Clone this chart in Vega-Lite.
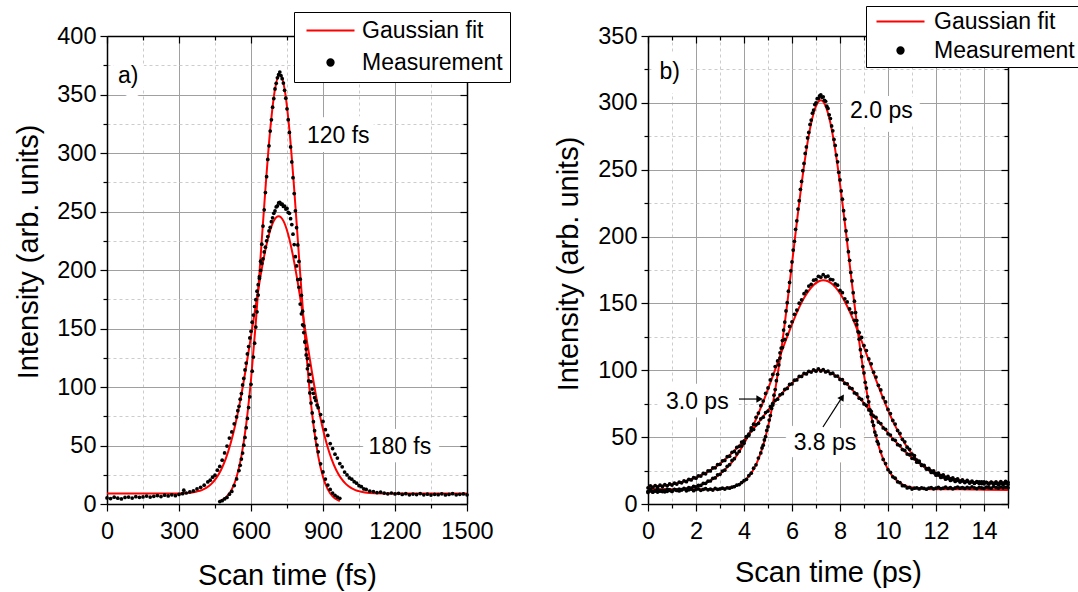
{
"$schema":"https://vega.github.io/schema/vega-lite/v6.json",
"background":"white",
"padding":{"left":14,"top":5,"right":2,"bottom":2},
"config":{
 "font":"Liberation Sans",
 "view":{"stroke":null},
 "axis":{"labelFont":"Liberation Sans","labelFontSize":23.5,"labelColor":"black","titleFont":"Liberation Sans","titleFontSize":29,"titleFontWeight":"normal","titleColor":"black","domainColor":"black","domainWidth":1.5,"tickColor":"black","tickWidth":1.2,"gridWidth":1}
},
"datasets":{
"fitL":[
{"c":"A","x":470,"y":2.6},{"c":"A","x":480,"y":3.5},{"c":"A","x":500,"y":6.5},{"c":"A","x":520,"y":12.5},{"c":"A","x":540,"y":23.1},{"c":"A","x":560,"y":40.9},{"c":"A","x":580,"y":68.1},{"c":"A","x":600,"y":106.2},{"c":"A","x":620,"y":155},{"c":"A","x":640,"y":211.3},{"c":"A","x":660,"y":269},{"c":"A","x":680,"y":319.7},{"c":"A","x":700,"y":354.6},{"c":"A","x":720,"y":367},{"c":"A","x":740,"y":354.6},{"c":"A","x":760,"y":319.7},{"c":"A","x":780,"y":269},{"c":"A","x":800,"y":211.3},{"c":"A","x":820,"y":155},{"c":"A","x":840,"y":106.2},{"c":"A","x":860,"y":68.1},{"c":"A","x":880,"y":40.9},{"c":"A","x":900,"y":23.1},{"c":"A","x":920,"y":12.5},{"c":"A","x":940,"y":6.5},{"c":"A","x":960,"y":3.5},{"c":"A","x":970,"y":2.6},
{"c":"B","x":0,"y":9},{"c":"B","x":100,"y":9},{"c":"B","x":200,"y":9},{"c":"B","x":300,"y":9.05},{"c":"B","x":315,"y":9.25},{"c":"B","x":355,"y":9.9},{"c":"B","x":375,"y":10.7},{"c":"B","x":395,"y":11.9},{"c":"B","x":415,"y":14},{"c":"B","x":435,"y":17.2},{"c":"B","x":455,"y":22.1},{"c":"B","x":475,"y":29.1},{"c":"B","x":495,"y":38.8},{"c":"B","x":515,"y":51.7},{"c":"B","x":535,"y":68.1},{"c":"B","x":555,"y":88.1},{"c":"B","x":575,"y":111.3},{"c":"B","x":595,"y":136.8},{"c":"B","x":615,"y":163.4},{"c":"B","x":635,"y":189.1},{"c":"B","x":655,"y":212.1},{"c":"B","x":675,"y":230.3},{"c":"B","x":695,"y":242},{"c":"B","x":715,"y":246},{"c":"B","x":735,"y":242},{"c":"B","x":755,"y":230.3},{"c":"B","x":775,"y":212.1},{"c":"B","x":795,"y":189.1},{"c":"B","x":815,"y":163.4},{"c":"B","x":835,"y":136.8},{"c":"B","x":855,"y":111.3},{"c":"B","x":875,"y":88.1},{"c":"B","x":895,"y":68.1},{"c":"B","x":915,"y":51.7},{"c":"B","x":935,"y":38.8},{"c":"B","x":955,"y":29.1},{"c":"B","x":975,"y":22.1},{"c":"B","x":995,"y":17.2},{"c":"B","x":1015,"y":14},{"c":"B","x":1035,"y":11.9},{"c":"B","x":1055,"y":10.7},{"c":"B","x":1075,"y":9.9},{"c":"B","x":1115,"y":9.25},{"c":"B","x":1200,"y":9},{"c":"B","x":1300,"y":9},{"c":"B","x":1400,"y":9},{"c":"B","x":1500,"y":9}
],
"measL":[
{"x":470,"y":2.1},{"x":480,"y":2.8},{"x":490,"y":4.3},{"x":500,"y":5.6},{"x":510,"y":8.4},{"x":520,"y":10.7},{"x":530,"y":15.8},{"x":540,"y":21.4},{"x":550,"y":28.6},{"x":555,"y":33.1},{"x":560,"y":38.4},{"x":565,"y":43.5},{"x":570,"y":50.3},{"x":575,"y":56.9},{"x":580,"y":65.2},{"x":585,"y":73.1},{"x":590,"y":82.4},{"x":595,"y":91.6},{"x":600,"y":102.3},{"x":605,"y":113.5},{"x":610,"y":125.6},{"x":615,"y":137.4},{"x":620,"y":151.2},{"x":625,"y":164.3},{"x":630,"y":178.6},{"x":635,"y":192.8},{"x":640,"y":207.5},{"x":645,"y":222.1},{"x":650,"y":237.6},{"x":655,"y":251.4},{"x":660,"y":266.2},{"x":665,"y":279.8},{"x":670,"y":294.5},{"x":675,"y":306.1},{"x":680,"y":318.7},{"x":685,"y":328.4},{"x":690,"y":339.2},{"x":695,"y":346.5},{"x":700,"y":354.8},{"x":705,"y":359.6},{"x":710,"y":364.3},{"x":715,"y":366.9},{"x":720,"y":369.2},{"x":725,"y":366.1},{"x":730,"y":363.5},{"x":735,"y":359.8},{"x":740,"y":353.6},{"x":745,"y":346.9},{"x":750,"y":337.8},{"x":755,"y":328.5},{"x":760,"y":317.6},{"x":765,"y":305.2},{"x":770,"y":292.4},{"x":775,"y":278.9},{"x":780,"y":265.3},{"x":785,"y":250.6},{"x":790,"y":236.2},{"x":795,"y":221.4},{"x":800,"y":207.3},{"x":805,"y":192.2},{"x":810,"y":178.4},{"x":815,"y":164.8},{"x":820,"y":152.3},{"x":825,"y":139.1},{"x":830,"y":127.4},{"x":835,"y":115.6},{"x":840,"y":105.2},{"x":845,"y":94.9},{"x":850,"y":86.3},{"x":855,"y":77.8},{"x":860,"y":70.4},{"x":865,"y":62.7},{"x":870,"y":56.3},{"x":875,"y":50.4},{"x":880,"y":44.6},{"x":890,"y":34.3},{"x":900,"y":27.4},{"x":910,"y":21.3},{"x":920,"y":16.2},{"x":930,"y":12.4},{"x":940,"y":9.3},{"x":950,"y":7.4},{"x":960,"y":5.8},{"x":970,"y":4.9},
{"x":0,"y":5.2},{"x":15,"y":4.6},{"x":30,"y":5.8},{"x":45,"y":5},{"x":60,"y":4.3},{"x":75,"y":5.6},{"x":90,"y":5.9},{"x":105,"y":5.1},{"x":120,"y":6.3},{"x":135,"y":5.7},{"x":150,"y":6},{"x":165,"y":6.8},{"x":180,"y":5.9},{"x":195,"y":6.6},{"x":210,"y":7.2},{"x":225,"y":6.4},{"x":240,"y":7.5},{"x":255,"y":6.9},{"x":270,"y":7.8},{"x":285,"y":7.1},{"x":300,"y":8.2},{"x":315,"y":8.8},{"x":320,"y":11.8},{"x":330,"y":9.4},{"x":345,"y":10.3},{"x":360,"y":11.2},{"x":375,"y":12.9},{"x":390,"y":14.3},{"x":405,"y":16.1},{"x":420,"y":18.9},{"x":430,"y":20.4},{"x":440,"y":22.9},{"x":450,"y":24.6},{"x":460,"y":28.9},{"x":470,"y":32.1},{"x":480,"y":37.4},{"x":490,"y":43.6},{"x":500,"y":49.5},{"x":510,"y":56.4},{"x":520,"y":61.6},{"x":530,"y":68.5},{"x":540,"y":74.4},{"x":545,"y":79.8},{"x":550,"y":83.5},{"x":555,"y":89.6},{"x":560,"y":94.4},{"x":565,"y":101.8},{"x":570,"y":107.3},{"x":575,"y":114.6},{"x":580,"y":120.5},{"x":585,"y":128.3},{"x":590,"y":134.6},{"x":595,"y":141.9},{"x":600,"y":147.6},{"x":605,"y":155.4},{"x":610,"y":161.5},{"x":615,"y":168.8},{"x":620,"y":174.6},{"x":625,"y":181.9},{"x":630,"y":187.5},{"x":635,"y":194.3},{"x":640,"y":199.6},{"x":645,"y":205.5},{"x":650,"y":209.6},{"x":655,"y":215.4},{"x":660,"y":219.5},{"x":665,"y":224.9},{"x":670,"y":228.6},{"x":675,"y":233.4},{"x":680,"y":236.5},{"x":685,"y":241.3},{"x":690,"y":244.6},{"x":695,"y":248.4},{"x":700,"y":250.6},{"x":705,"y":253.9},{"x":710,"y":254.8},{"x":715,"y":257.3},{"x":720,"y":257.9},{"x":725,"y":256.2},{"x":730,"y":256.4},{"x":735,"y":254.3},{"x":740,"y":254.6},{"x":745,"y":252.1},{"x":750,"y":252.6},{"x":755,"y":249.2},{"x":760,"y":248.4},{"x":765,"y":243.9},{"x":770,"y":238.8},{"x":775,"y":230.6},{"x":780,"y":221.7},{"x":785,"y":211.4},{"x":790,"y":203.5},{"x":795,"y":191.8},{"x":800,"y":185.2},{"x":805,"y":170.9},{"x":810,"y":162.6},{"x":815,"y":153.1},{"x":820,"y":146.5},{"x":825,"y":138.2},{"x":830,"y":132.4},{"x":835,"y":124.3},{"x":840,"y":118.6},{"x":845,"y":110.9},{"x":850,"y":104.5},{"x":855,"y":98.2},{"x":860,"y":94.6},{"x":865,"y":90.9},{"x":870,"y":88.4},{"x":875,"y":84.6},{"x":880,"y":82.3},{"x":890,"y":76.4},{"x":900,"y":70.6},{"x":910,"y":63.5},{"x":920,"y":58.6},{"x":930,"y":51.7},{"x":940,"y":47.4},{"x":950,"y":42.6},{"x":960,"y":39.3},{"x":970,"y":34.6},{"x":980,"y":31.8},{"x":990,"y":27.3},{"x":1000,"y":24.8},{"x":1010,"y":22.3},{"x":1020,"y":21.2},{"x":1030,"y":19.1},{"x":1040,"y":17.8},{"x":1050,"y":15.7},{"x":1060,"y":14.8},{"x":1070,"y":12.9},{"x":1080,"y":12.4},{"x":1095,"y":11},{"x":1110,"y":10.6},{"x":1125,"y":9.8},{"x":1140,"y":10.2},{"x":1155,"y":9.3},{"x":1170,"y":8.7},{"x":1185,"y":9.4},{"x":1200,"y":8.6},{"x":1215,"y":9.1},{"x":1230,"y":8.2},{"x":1245,"y":8.8},{"x":1260,"y":7.9},{"x":1275,"y":8.5},{"x":1290,"y":8.1},{"x":1305,"y":8.9},{"x":1320,"y":7.8},{"x":1335,"y":8.4},{"x":1350,"y":7.6},{"x":1365,"y":8.3},{"x":1380,"y":8},{"x":1395,"y":8.7},{"x":1410,"y":7.7},{"x":1425,"y":8.2},{"x":1440,"y":8.8},{"x":1455,"y":7.9},{"x":1470,"y":8.3},{"x":1485,"y":8.6},{"x":1500,"y":7.9}
],
"fitR":[
{"c":"N","x":0,"y":11},{"c":"N","x":1,"y":11},{"c":"N","x":2,"y":11},{"c":"N","x":3,"y":11.1},{"c":"N","x":3.2,"y":11.7},{"c":"N","x":3.4,"y":12.3},{"c":"N","x":3.6,"y":13.2},{"c":"N","x":3.8,"y":14.7},{"c":"N","x":4,"y":17.1},{"c":"N","x":4.2,"y":20.7},{"c":"N","x":4.3,"y":23.1},{"c":"N","x":4.4,"y":26},{"c":"N","x":4.5,"y":29.5},{"c":"N","x":4.6,"y":33.6},{"c":"N","x":4.7,"y":38.4},{"c":"N","x":4.8,"y":44},{"c":"N","x":4.9,"y":50.4},{"c":"N","x":5,"y":57.7},{"c":"N","x":5.1,"y":65.9},{"c":"N","x":5.2,"y":75.1},{"c":"N","x":5.3,"y":85.3},{"c":"N","x":5.4,"y":96.5},{"c":"N","x":5.5,"y":108.6},{"c":"N","x":5.6,"y":121.5},{"c":"N","x":5.7,"y":135.3},{"c":"N","x":5.8,"y":149.7},{"c":"N","x":5.9,"y":164.6},{"c":"N","x":6,"y":179.8},{"c":"N","x":6.1,"y":195.2},{"c":"N","x":6.2,"y":210.4},{"c":"N","x":6.3,"y":225.2},{"c":"N","x":6.4,"y":239.4},{"c":"N","x":6.5,"y":252.8},{"c":"N","x":6.6,"y":265},{"c":"N","x":6.7,"y":275.7},{"c":"N","x":6.8,"y":284.9},{"c":"N","x":6.9,"y":292.3},{"c":"N","x":7,"y":297.6},{"c":"N","x":7.1,"y":300.9},{"c":"N","x":7.2,"y":302},{"c":"N","x":7.3,"y":300.9},{"c":"N","x":7.4,"y":297.6},{"c":"N","x":7.5,"y":292.3},{"c":"N","x":7.6,"y":284.9},{"c":"N","x":7.7,"y":275.7},{"c":"N","x":7.8,"y":265},{"c":"N","x":7.9,"y":252.8},{"c":"N","x":8,"y":239.4},{"c":"N","x":8.1,"y":225.2},{"c":"N","x":8.2,"y":210.4},{"c":"N","x":8.3,"y":195.2},{"c":"N","x":8.4,"y":179.8},{"c":"N","x":8.5,"y":164.6},{"c":"N","x":8.6,"y":149.7},{"c":"N","x":8.7,"y":135.3},{"c":"N","x":8.8,"y":121.5},{"c":"N","x":8.9,"y":108.6},{"c":"N","x":9,"y":96.5},{"c":"N","x":9.1,"y":85.3},{"c":"N","x":9.2,"y":75.1},{"c":"N","x":9.3,"y":65.9},{"c":"N","x":9.4,"y":57.7},{"c":"N","x":9.5,"y":50.4},{"c":"N","x":9.6,"y":44},{"c":"N","x":9.7,"y":38.4},{"c":"N","x":9.8,"y":33.6},{"c":"N","x":9.9,"y":29.5},{"c":"N","x":10,"y":26},{"c":"N","x":10.1,"y":23.1},{"c":"N","x":10.2,"y":20.7},{"c":"N","x":10.4,"y":17.1},{"c":"N","x":10.6,"y":14.7},{"c":"N","x":10.8,"y":13.2},{"c":"N","x":11,"y":12.3},{"c":"N","x":11.2,"y":11.7},{"c":"N","x":11.6,"y":11.2},{"c":"N","x":12,"y":11},{"c":"N","x":13,"y":11},{"c":"N","x":14,"y":10.7},{"c":"N","x":15,"y":10.4},
{"c":"M","x":0,"y":9.1},{"c":"M","x":0.8,"y":10.2},{"c":"M","x":1.3,"y":10.7},{"c":"M","x":1.7,"y":11.8},{"c":"M","x":2.1,"y":13.7},{"c":"M","x":2.5,"y":16.6},{"c":"M","x":2.9,"y":21},{"c":"M","x":3.3,"y":27.4},{"c":"M","x":3.5,"y":31.4},{"c":"M","x":3.7,"y":36.4},{"c":"M","x":3.9,"y":42.1},{"c":"M","x":4.1,"y":48.4},{"c":"M","x":4.3,"y":55.6},{"c":"M","x":4.5,"y":63.4},{"c":"M","x":4.7,"y":72},{"c":"M","x":4.9,"y":81.1},{"c":"M","x":5.1,"y":90.7},{"c":"M","x":5.3,"y":100.6},{"c":"M","x":5.5,"y":110.6},{"c":"M","x":5.7,"y":120.4},{"c":"M","x":5.9,"y":129.9},{"c":"M","x":6.1,"y":138.9},{"c":"M","x":6.3,"y":147},{"c":"M","x":6.5,"y":154},{"c":"M","x":6.7,"y":159.6},{"c":"M","x":6.9,"y":163.8},{"c":"M","x":7.1,"y":166.4},{"c":"M","x":7.3,"y":167.4},{"c":"M","x":7.5,"y":166.6},{"c":"M","x":7.7,"y":164.2},{"c":"M","x":7.9,"y":160.2},{"c":"M","x":8.1,"y":154.7},{"c":"M","x":8.3,"y":147.9},{"c":"M","x":8.5,"y":140},{"c":"M","x":8.7,"y":131.2},{"c":"M","x":8.9,"y":121.9},{"c":"M","x":9.1,"y":112.3},{"c":"M","x":9.3,"y":102.5},{"c":"M","x":9.5,"y":92.8},{"c":"M","x":9.7,"y":83.4},{"c":"M","x":9.9,"y":74.5},{"c":"M","x":10.1,"y":66},{"c":"M","x":10.3,"y":58.4},{"c":"M","x":10.5,"y":51.4},{"c":"M","x":10.7,"y":45.3},{"c":"M","x":10.9,"y":39.8},{"c":"M","x":11.1,"y":35.2},{"c":"M","x":11.3,"y":31.2},{"c":"M","x":11.7,"y":25.1},{"c":"M","x":12.1,"y":21.1},{"c":"M","x":12.5,"y":18.6},{"c":"M","x":12.9,"y":17.1},{"c":"M","x":13.3,"y":16.4},{"c":"M","x":13.8,"y":16},{"c":"M","x":15,"y":16.1},
{"c":"W","x":0,"y":12.7},{"c":"W","x":0.3,"y":13.2},{"c":"W","x":0.7,"y":13.9},{"c":"W","x":1.1,"y":15.1},{"c":"W","x":1.5,"y":16.8},{"c":"W","x":1.9,"y":19.1},{"c":"W","x":2.1,"y":20.5},{"c":"W","x":2.3,"y":22.3},{"c":"W","x":2.5,"y":24.2},{"c":"W","x":2.7,"y":26.4},{"c":"W","x":2.9,"y":28.9},{"c":"W","x":3.1,"y":31.7},{"c":"W","x":3.3,"y":34.8},{"c":"W","x":3.5,"y":38.1},{"c":"W","x":3.7,"y":41.7},{"c":"W","x":3.9,"y":45.7},{"c":"W","x":4.1,"y":49.8},{"c":"W","x":4.3,"y":54.2},{"c":"W","x":4.5,"y":58.6},{"c":"W","x":4.7,"y":63.1},{"c":"W","x":4.9,"y":67.8},{"c":"W","x":5.1,"y":72.3},{"c":"W","x":5.3,"y":76.9},{"c":"W","x":5.5,"y":81.1},{"c":"W","x":5.7,"y":85.1},{"c":"W","x":5.9,"y":88.8},{"c":"W","x":6.1,"y":92},{"c":"W","x":6.3,"y":94.8},{"c":"W","x":6.5,"y":97},{"c":"W","x":6.7,"y":98.6},{"c":"W","x":6.9,"y":99.7},{"c":"W","x":7.1,"y":100},{"c":"W","x":7.3,"y":99.8},{"c":"W","x":7.5,"y":98.8},{"c":"W","x":7.7,"y":97.2},{"c":"W","x":7.9,"y":95.1},{"c":"W","x":8.1,"y":92.4},{"c":"W","x":8.3,"y":89.3},{"c":"W","x":8.5,"y":85.7},{"c":"W","x":8.7,"y":81.7},{"c":"W","x":8.9,"y":77.6},{"c":"W","x":9.1,"y":73.1},{"c":"W","x":9.3,"y":68.7},{"c":"W","x":9.5,"y":64.1},{"c":"W","x":9.7,"y":59.6},{"c":"W","x":9.9,"y":55.3},{"c":"W","x":10.1,"y":51},{"c":"W","x":10.3,"y":47},{"c":"W","x":10.5,"y":43.1},{"c":"W","x":10.7,"y":39.5},{"c":"W","x":10.9,"y":36.3},{"c":"W","x":11.1,"y":33.3},{"c":"W","x":11.3,"y":30.6},{"c":"W","x":11.5,"y":28.2},{"c":"W","x":11.7,"y":26},{"c":"W","x":11.9,"y":24.2},{"c":"W","x":12.1,"y":22.5},{"c":"W","x":12.3,"y":21.2},{"c":"W","x":12.5,"y":20},{"c":"W","x":12.9,"y":18.2},{"c":"W","x":13.3,"y":17},{"c":"W","x":13.7,"y":16.1},{"c":"W","x":14.1,"y":15.6},{"c":"W","x":14.5,"y":15.4},{"c":"W","x":15,"y":15.3}
],
"measR":[
{"x":0,"y":9.5},{"x":0.1,"y":10.8},{"x":0.2,"y":9.2},{"x":0.3,"y":10.1},{"x":0.4,"y":11.2},{"x":0.5,"y":9.6},{"x":0.6,"y":10.4},{"x":0.7,"y":9.1},{"x":0.8,"y":10.9},{"x":0.9,"y":10.2},{"x":1,"y":9.4},{"x":1.1,"y":11},{"x":1.2,"y":10.3},{"x":1.3,"y":9.8},{"x":1.4,"y":10.7},{"x":1.5,"y":11.3},{"x":1.6,"y":9.9},{"x":1.7,"y":10.6},{"x":1.8,"y":11.1},{"x":1.9,"y":10},{"x":2,"y":10.8},{"x":2.1,"y":11.4},{"x":2.2,"y":10.2},{"x":2.3,"y":10.9},{"x":2.4,"y":11.5},{"x":2.5,"y":10.6},{"x":2.6,"y":11.2},{"x":2.7,"y":10.4},{"x":2.8,"y":11.6},{"x":2.9,"y":11},{"x":3,"y":11.3},{"x":3.1,"y":11.9},{"x":3.2,"y":11.2},{"x":3.3,"y":12.1},{"x":3.4,"y":11.8},{"x":3.5,"y":12.6},{"x":3.6,"y":13},{"x":3.7,"y":14.1},{"x":3.8,"y":14.5},{"x":3.9,"y":16},{"x":4,"y":17.4},{"x":4.1,"y":18.5},{"x":4.2,"y":21.2},{"x":4.3,"y":23},{"x":4.4,"y":26.8},{"x":4.5,"y":29.3},{"x":4.6,"y":34.4},{"x":4.7,"y":38.2},{"x":4.75,"y":41.9},{"x":4.8,"y":44},{"x":4.85,"y":47.9},{"x":4.9,"y":50.4},{"x":4.95,"y":55},{"x":5,"y":57.8},{"x":5.05,"y":62.8},{"x":5.1,"y":66.1},{"x":5.15,"y":71.5},{"x":5.2,"y":75.3},{"x":5.25,"y":81.4},{"x":5.3,"y":85.6},{"x":5.35,"y":92.2},{"x":5.4,"y":97},{"x":5.45,"y":104},{"x":5.5,"y":109.1},{"x":5.55,"y":116.6},{"x":5.6,"y":122.2},{"x":5.65,"y":130.1},{"x":5.7,"y":136.1},{"x":5.75,"y":144.4},{"x":5.8,"y":150.6},{"x":5.85,"y":159.2},{"x":5.9,"y":165.7},{"x":5.95,"y":174.4},{"x":6,"y":181},{"x":6.05,"y":189.9},{"x":6.1,"y":196.5},{"x":6.15,"y":205.4},{"x":6.2,"y":211.8},{"x":6.25,"y":220.6},{"x":6.3,"y":226.8},{"x":6.35,"y":235.3},{"x":6.4,"y":241.2},{"x":6.45,"y":249.3},{"x":6.5,"y":254.7},{"x":6.55,"y":262.2},{"x":6.6,"y":267},{"x":6.65,"y":273.8},{"x":6.7,"y":277.9},{"x":6.75,"y":283.9},{"x":6.8,"y":287.1},{"x":6.85,"y":292.3},{"x":6.9,"y":294.6},{"x":6.95,"y":298.7},{"x":7,"y":300},{"x":7.05,"y":303.1},{"x":7.1,"y":303.3},{"x":7.15,"y":305.3},{"x":7.2,"y":306},{"x":7.25,"y":304.1},{"x":7.3,"y":304.5},{"x":7.35,"y":301.9},{"x":7.4,"y":301.2},{"x":7.45,"y":297.5},{"x":7.5,"y":295.8},{"x":7.55,"y":291.1},{"x":7.6,"y":288.3},{"x":7.65,"y":282.7},{"x":7.7,"y":279.1},{"x":7.75,"y":272.6},{"x":7.8,"y":268.2},{"x":7.85,"y":261},{"x":7.9,"y":255.9},{"x":7.95,"y":248.1},{"x":8,"y":242.4},{"x":8.05,"y":234.1},{"x":8.1,"y":228},{"x":8.15,"y":219.4},{"x":8.2,"y":213},{"x":8.25,"y":204.2},{"x":8.3,"y":197.7},{"x":8.35,"y":188.7},{"x":8.4,"y":182.2},{"x":8.45,"y":173.2},{"x":8.5,"y":166.8},{"x":8.55,"y":158},{"x":8.6,"y":151.7},{"x":8.65,"y":143.2},{"x":8.7,"y":137.2},{"x":8.75,"y":128.9},{"x":8.8,"y":123.3},{"x":8.85,"y":115.4},{"x":8.9,"y":110.2},{"x":8.95,"y":102.8},{"x":9,"y":98},{"x":9.05,"y":91},{"x":9.1,"y":86.7},{"x":9.15,"y":80.2},{"x":9.2,"y":76.4},{"x":9.25,"y":70.4},{"x":9.3,"y":67.1},{"x":9.35,"y":61.6},{"x":9.4,"y":58.8},{"x":9.45,"y":53.8},{"x":9.5,"y":51.4},{"x":9.55,"y":46.9},{"x":9.6,"y":44.9},{"x":9.7,"y":39.2},{"x":9.8,"y":33.3},{"x":9.9,"y":30.2},{"x":10,"y":25.7},{"x":10.1,"y":23.7},{"x":10.2,"y":20.3},{"x":10.3,"y":19.3},{"x":10.4,"y":16.6},{"x":10.5,"y":15.9},{"x":10.6,"y":13.7},{"x":10.7,"y":13.6},{"x":10.8,"y":12},{"x":10.9,"y":12.4},{"x":11,"y":11.2},{"x":11.1,"y":11.8},{"x":11.2,"y":12},{"x":11.3,"y":11.3},{"x":11.4,"y":12.1},{"x":11.5,"y":11.6},{"x":11.6,"y":11.1},{"x":11.7,"y":11.9},{"x":11.8,"y":12.3},{"x":11.9,"y":11.4},{"x":12,"y":11.8},{"x":12.1,"y":12.4},{"x":12.2,"y":11.5},{"x":12.3,"y":11.9},{"x":12.4,"y":12.6},{"x":12.5,"y":11.7},{"x":12.6,"y":12.2},{"x":12.7,"y":11.4},{"x":12.8,"y":12},{"x":12.9,"y":12.7},{"x":13,"y":11.8},{"x":13.1,"y":12.3},{"x":13.2,"y":11.6},{"x":13.3,"y":12.4},{"x":13.4,"y":11.9},{"x":13.5,"y":12.8},{"x":13.6,"y":12.1},{"x":13.7,"y":11.5},{"x":13.8,"y":12.5},{"x":13.9,"y":12},{"x":14,"y":11.7},{"x":14.1,"y":12.6},{"x":14.2,"y":12.2},{"x":14.3,"y":11.8},{"x":14.4,"y":12.9},{"x":14.5,"y":12.3},{"x":14.6,"y":11.9},{"x":14.7,"y":12.7},{"x":14.8,"y":12.1},{"x":14.9,"y":12.5},{"x":15,"y":12.2},
{"x":0,"y":8.6},{"x":0.1,"y":9.9},{"x":0.2,"y":8.8},{"x":0.3,"y":9.7},{"x":0.4,"y":8.9},{"x":0.5,"y":10.2},{"x":0.6,"y":9.3},{"x":0.7,"y":10.1},{"x":0.8,"y":9.5},{"x":0.9,"y":10.6},{"x":1,"y":9.7},{"x":1.1,"y":10.8},{"x":1.2,"y":10.1},{"x":1.3,"y":11.2},{"x":1.4,"y":10.5},{"x":1.5,"y":11.6},{"x":1.6,"y":11.1},{"x":1.7,"y":12.3},{"x":1.8,"y":11.8},{"x":1.9,"y":13.1},{"x":2,"y":12.8},{"x":2.1,"y":14},{"x":2.2,"y":13.9},{"x":2.3,"y":15.4},{"x":2.4,"y":15.5},{"x":2.5,"y":17.1},{"x":2.6,"y":17.2},{"x":2.7,"y":19.2},{"x":2.8,"y":19.5},{"x":2.9,"y":21.8},{"x":3,"y":22.2},{"x":3.1,"y":24.6},{"x":3.2,"y":25.3},{"x":3.3,"y":28.2},{"x":3.4,"y":29.4},{"x":3.5,"y":32.6},{"x":3.6,"y":33.9},{"x":3.7,"y":37.5},{"x":3.8,"y":39.3},{"x":3.9,"y":43.4},{"x":4,"y":45.4},{"x":4.1,"y":49.8},{"x":4.2,"y":52.2},{"x":4.3,"y":56.9},{"x":4.4,"y":59.7},{"x":4.5,"y":64.8},{"x":4.6,"y":68},{"x":4.7,"y":73.5},{"x":4.8,"y":77},{"x":4.9,"y":82.7},{"x":5,"y":86.8},{"x":5.1,"y":92.8},{"x":5.2,"y":96.9},{"x":5.3,"y":102.8},{"x":5.4,"y":107},{"x":5.5,"y":113.1},{"x":5.6,"y":117},{"x":5.7,"y":123.1},{"x":5.8,"y":126.9},{"x":5.9,"y":132.8},{"x":6,"y":136.3},{"x":6.1,"y":141.9},{"x":6.2,"y":145},{"x":6.3,"y":150.2},{"x":6.4,"y":152.7},{"x":6.5,"y":157.3},{"x":6.6,"y":159.2},{"x":6.7,"y":163},{"x":6.8,"y":164.3},{"x":6.9,"y":167.4},{"x":7,"y":167.8},{"x":7.1,"y":170.3},{"x":7.2,"y":169.6},{"x":7.3,"y":171.5},{"x":7.4,"y":169.8},{"x":7.5,"y":170.4},{"x":7.6,"y":168},{"x":7.7,"y":167.7},{"x":7.8,"y":164.7},{"x":7.9,"y":163.6},{"x":8,"y":159.8},{"x":8.1,"y":158},{"x":8.2,"y":153.5},{"x":8.3,"y":151.1},{"x":8.4,"y":145.9},{"x":8.5,"y":143},{"x":8.6,"y":137.4},{"x":8.7,"y":134.1},{"x":8.8,"y":128.2},{"x":8.9,"y":124.6},{"x":9,"y":118.5},{"x":9.1,"y":114.8},{"x":9.2,"y":108.5},{"x":9.3,"y":104.8},{"x":9.4,"y":98.6},{"x":9.5,"y":94.9},{"x":9.6,"y":88.8},{"x":9.7,"y":85.3},{"x":9.8,"y":79.5},{"x":9.9,"y":76.3},{"x":10,"y":70.7},{"x":10.1,"y":67.6},{"x":10.2,"y":62.5},{"x":10.3,"y":59.8},{"x":10.4,"y":55},{"x":10.5,"y":52.8},{"x":10.6,"y":48.4},{"x":10.7,"y":46.5},{"x":10.8,"y":42.5},{"x":10.9,"y":40.9},{"x":11,"y":37.3},{"x":11.1,"y":36.2},{"x":11.2,"y":32.9},{"x":11.3,"y":32.1},{"x":11.4,"y":29.2},{"x":11.5,"y":28.7},{"x":11.6,"y":26.1},{"x":11.7,"y":25.9},{"x":11.8,"y":23.6},{"x":11.9,"y":23.5},{"x":12,"y":21.5},{"x":12.1,"y":21.7},{"x":12.2,"y":19.9},{"x":12.3,"y":20.2},{"x":12.4,"y":18.6},{"x":12.5,"y":19.1},{"x":12.6,"y":17.6},{"x":12.7,"y":18.3},{"x":12.8,"y":16.9},{"x":12.9,"y":17.7},{"x":13,"y":16.4},{"x":13.1,"y":17.2},{"x":13.2,"y":16},{"x":13.3,"y":16.9},{"x":13.4,"y":15.7},{"x":13.5,"y":16.6},{"x":13.6,"y":15.5},{"x":13.7,"y":16.4},{"x":13.8,"y":16.6},{"x":13.9,"y":15.3},{"x":14,"y":16.5},{"x":14.1,"y":16},{"x":14.2,"y":15.2},{"x":14.3,"y":16.3},{"x":14.4,"y":15.4},{"x":14.5,"y":16.6},{"x":14.6,"y":15.3},{"x":14.7,"y":16.8},{"x":14.8,"y":15.6},{"x":14.9,"y":16.9},{"x":15,"y":16.2},
{"x":0,"y":12.1},{"x":0.1,"y":13.5},{"x":0.2,"y":12.4},{"x":0.3,"y":13.8},{"x":0.4,"y":12.7},{"x":0.5,"y":14.1},{"x":0.6,"y":13.1},{"x":0.7,"y":14.4},{"x":0.8,"y":13.6},{"x":0.9,"y":15},{"x":1,"y":14.2},{"x":1.1,"y":15.6},{"x":1.2,"y":14.9},{"x":1.3,"y":16.4},{"x":1.4,"y":15.8},{"x":1.5,"y":17.3},{"x":1.6,"y":16.7},{"x":1.7,"y":18.4},{"x":1.8,"y":18},{"x":1.9,"y":19.7},{"x":2,"y":19.3},{"x":2.1,"y":21.1},{"x":2.2,"y":20.9},{"x":2.3,"y":22.9},{"x":2.4,"y":22.6},{"x":2.5,"y":24.8},{"x":2.6,"y":24.7},{"x":2.7,"y":27},{"x":2.8,"y":27.1},{"x":2.9,"y":29.5},{"x":3,"y":29.7},{"x":3.1,"y":32.3},{"x":3.2,"y":32.6},{"x":3.3,"y":35.4},{"x":3.4,"y":35.8},{"x":3.5,"y":38.7},{"x":3.6,"y":39.3},{"x":3.7,"y":42.3},{"x":3.8,"y":43.1},{"x":3.9,"y":46.3},{"x":4,"y":47.1},{"x":4.1,"y":50.4},{"x":4.2,"y":51.3},{"x":4.3,"y":54.8},{"x":4.4,"y":55.8},{"x":4.5,"y":59.2},{"x":4.6,"y":60.3},{"x":4.7,"y":63.7},{"x":4.8,"y":64.9},{"x":4.9,"y":68.4},{"x":5,"y":69.5},{"x":5.1,"y":72.9},{"x":5.2,"y":74},{"x":5.3,"y":77.5},{"x":5.4,"y":78.4},{"x":5.5,"y":81.7},{"x":5.6,"y":82.5},{"x":5.7,"y":85.7},{"x":5.8,"y":86.4},{"x":5.9,"y":89.4},{"x":6,"y":89.8},{"x":6.1,"y":92.6},{"x":6.2,"y":92.8},{"x":6.3,"y":95.4},{"x":6.4,"y":95.4},{"x":6.5,"y":97.6},{"x":6.6,"y":97.3},{"x":6.7,"y":99.2},{"x":6.8,"y":98.7},{"x":6.9,"y":100.4},{"x":7,"y":99.3},{"x":7.1,"y":101},{"x":7.2,"y":99.4},{"x":7.3,"y":100.5},{"x":7.4,"y":98.8},{"x":7.5,"y":99.4},{"x":7.6,"y":97.5},{"x":7.7,"y":97.8},{"x":7.8,"y":95.7},{"x":7.9,"y":95.7},{"x":8,"y":93.2},{"x":8.1,"y":93},{"x":8.2,"y":90.2},{"x":8.3,"y":89.9},{"x":8.4,"y":86.9},{"x":8.5,"y":86.3},{"x":8.6,"y":83.1},{"x":8.7,"y":82.3},{"x":8.8,"y":79.1},{"x":8.9,"y":78.2},{"x":9,"y":74.8},{"x":9.1,"y":73.7},{"x":9.2,"y":70.3},{"x":9.3,"y":69.3},{"x":9.4,"y":65.8},{"x":9.5,"y":64.7},{"x":9.6,"y":61.3},{"x":9.7,"y":60.2},{"x":9.8,"y":56.9},{"x":9.9,"y":55.9},{"x":10,"y":52.5},{"x":10.1,"y":51.6},{"x":10.2,"y":48.3},{"x":10.3,"y":47.6},{"x":10.4,"y":44.4},{"x":10.5,"y":43.7},{"x":10.6,"y":40.7},{"x":10.7,"y":40.1},{"x":10.8,"y":37.3},{"x":10.9,"y":36.9},{"x":11,"y":34.2},{"x":11.1,"y":33.9},{"x":11.2,"y":31.3},{"x":11.3,"y":31.2},{"x":11.4,"y":28.8},{"x":11.5,"y":28.8},{"x":11.6,"y":26.5},{"x":11.7,"y":26.6},{"x":11.8,"y":24.5},{"x":11.9,"y":24.8},{"x":12,"y":22.8},{"x":12.1,"y":23.1},{"x":12.2,"y":21.2},{"x":12.3,"y":21.8},{"x":12.4,"y":20},{"x":12.5,"y":20.6},{"x":12.6,"y":18.8},{"x":12.7,"y":19.6},{"x":12.8,"y":18},{"x":12.9,"y":18.8},{"x":13,"y":17.2},{"x":13.1,"y":18.1},{"x":13.2,"y":16.6},{"x":13.3,"y":17.6},{"x":13.4,"y":16.1},{"x":13.5,"y":17.1},{"x":13.6,"y":15.7},{"x":13.7,"y":16.7},{"x":13.8,"y":15.4},{"x":13.9,"y":16.5},{"x":14,"y":15.1},{"x":14.1,"y":16.2},{"x":14.2,"y":14.9},{"x":14.3,"y":16.1},{"x":14.4,"y":14.8},{"x":14.5,"y":15.5},{"x":14.6,"y":14.3},{"x":14.7,"y":15.6},{"x":14.8,"y":14.4},{"x":14.9,"y":15.7},{"x":15,"y":14.6}
]
},
"hconcat":[
{
 "width":360,"height":468,
 "resolve":{"axis":{"x":"independent","y":"independent"}},
 "layer":[
  {
   "data":{"name":"fitL"},
   "mark":{"type":"line","strokeWidth":2,"interpolate":"monotone"},
   "encoding":{
    "x":{"field":"x","type":"quantitative","scale":{"domain":[0,1500],"nice":false,"zero":false},
     "axis":{"orient":"bottom","title":"Scan time (fs)","titleY":80,"titleBaseline":"alphabetic","values":[0,150,300,450,600,750,900,1050,1200,1350,1500],"format":"d","labelExpr":"datum.value % 300 === 0 ? datum.label : ''","labelPadding":8,"labelFlush":false,"labelOverlap":false,
      "tickSize":{"condition":{"test":"datum.value % 300 === 0","value":7},"value":4},
      "grid":true,"gridColor":{"condition":{"test":"datum.value % 300 === 0","value":"#a0a0a0"},"value":"#cccccc"},"gridDash":{"condition":{"test":"datum.value % 300 === 0","value":[]},"value":[3,3]}}},
    "y":{"field":"y","type":"quantitative","scale":{"domain":[0,400],"nice":false},
     "axis":{"orient":"left","title":"Intensity (arb. units)","titleX":-70,"titleY":215.5,"titleBaseline":"alphabetic","values":[0,25,50,75,100,125,150,175,200,225,250,275,300,325,350,375,400],"format":"d","labelExpr":"datum.value % 50 === 0 ? datum.label : ''","labelPadding":4,"labelOverlap":false,
      "tickSize":{"condition":{"test":"datum.value % 50 === 0","value":7},"value":4},
      "grid":true,"gridColor":{"condition":{"test":"datum.value % 50 === 0","value":"#a0a0a0"},"value":"#cccccc"},"gridDash":{"condition":{"test":"datum.value % 50 === 0","value":[]},"value":[3,3]}}},
    "detail":{"field":"c"},
    "color":{"datum":"Gaussian fit","type":"nominal","scale":{"domain":["Gaussian fit","Measurement"],"range":["red","black"]},
     "legend":{"title":null,"orient":"none","legendX":187,"legendY":-24,"direction":"vertical","fillColor":"white","strokeColor":"black","padding":7,"rowPadding":8,"symbolOffset":18,"labelOffset":20,"symbolSize":400,"labelFont":"Liberation Sans","labelFontSize":23,"labelColor":"black","labelLimit":400,
      "encode":{"symbols":{"update":{"shape":{"signal":"datum.value === 'Gaussian fit' ? 'M-2.4,0L2.4,0' : 'circle'"},"size":{"signal":"datum.value === 'Gaussian fit' ? 400 : 40"},"fill":{"signal":"datum.value === 'Gaussian fit' ? 'transparent' : 'black'"},"stroke":{"signal":"datum.value === 'Gaussian fit' ? 'red' : 'transparent'"},"strokeWidth":{"value":2},"opacity":{"value":1}}}}}}
   }
  },
  {
   "data":{"name":"measL"},
   "mark":{"type":"point","filled":true,"size":14,"opacity":1},
   "encoding":{
    "x":{"field":"x","type":"quantitative","axis":{"orient":"top","title":null,"labels":false,"grid":false,"values":[0,150,300,450,600,750,900,1050,1200,1350,1500],"tickSize":{"condition":{"test":"datum.value % 300 === 0","value":-7},"value":-4}}},
    "y":{"field":"y","type":"quantitative","axis":{"orient":"right","title":null,"labels":false,"grid":false,"values":[0,25,50,75,100,125,150,175,200,225,250,275,300,325,350,375,400],"tickSize":{"condition":{"test":"datum.value % 50 === 0","value":-7},"value":-4}}},
    "color":{"datum":"Measurement","type":"nominal","scale":{"domain":["Gaussian fit","Measurement"],"range":["red","black"]},
     "legend":{"title":null,"orient":"none","legendX":187,"legendY":-24,"direction":"vertical","fillColor":"white","strokeColor":"black","padding":7,"rowPadding":8,"symbolOffset":18,"labelOffset":20,"symbolSize":400,"labelFont":"Liberation Sans","labelFontSize":23,"labelColor":"black","labelLimit":400,
      "encode":{"symbols":{"update":{"shape":{"signal":"datum.value === 'Gaussian fit' ? 'M-2.4,0L2.4,0' : 'circle'"},"size":{"signal":"datum.value === 'Gaussian fit' ? 400 : 40"},"fill":{"signal":"datum.value === 'Gaussian fit' ? 'transparent' : 'black'"},"stroke":{"signal":"datum.value === 'Gaussian fit' ? 'red' : 'transparent'"},"strokeWidth":{"value":2},"opacity":{"value":1}}}}}}
   }
  },
  {
   "data":{"values":[{"x":45.8,"y":360,"t":"a)"},{"x":833,"y":308.8,"t":"120 fs"},{"x":1090,"y":42.5,"t":"180 fs"}]},
   "mark":{"type":"text","align":"left","baseline":"alphabetic","fontSize":23,"font":"Liberation Sans","fill":"white","stroke":"white","strokeWidth":18,"strokeJoin":"round"},
   "encoding":{"x":{"field":"x","type":"quantitative","axis":null},"y":{"field":"y","type":"quantitative","axis":null},"text":{"field":"t"}}
  },
  {
   "data":{"values":[{"x":45.8,"y":360,"t":"a)"},{"x":833,"y":308.8,"t":"120 fs"},{"x":1090,"y":42.5,"t":"180 fs"}]},
   "mark":{"type":"text","align":"left","baseline":"alphabetic","fontSize":23,"font":"Liberation Sans","color":"black"},
   "encoding":{"x":{"field":"x","type":"quantitative","axis":null},"y":{"field":"y","type":"quantitative","axis":null},"text":{"field":"t"}}
  }
 ]
},
{
 "width":360,"height":468,
 "resolve":{"axis":{"x":"independent","y":"independent"}},
 "layer":[
  {
   "data":{"name":"fitR"},
   "mark":{"type":"line","strokeWidth":2,"interpolate":"monotone"},
   "encoding":{
    "x":{"field":"x","type":"quantitative","scale":{"domain":[0,15],"nice":false,"zero":false},
     "axis":{"orient":"bottom","title":"Scan time (ps)","titleY":77,"titleBaseline":"alphabetic","values":[0,1,2,3,4,5,6,7,8,9,10,11,12,13,14,15],"format":"d","labelExpr":"datum.value % 2 === 0 ? datum.label : ''","labelPadding":8,"labelFlush":false,"labelOverlap":false,
      "tickSize":{"condition":{"test":"datum.value % 2 === 0","value":7},"value":4},
      "grid":true,"gridColor":{"condition":{"test":"datum.value % 2 === 0","value":"#a0a0a0"},"value":"#cccccc"},"gridDash":{"condition":{"test":"datum.value % 2 === 0","value":[]},"value":[3,3]}}},
    "y":{"field":"y","type":"quantitative","scale":{"domain":[0,350],"nice":false},
     "axis":{"orient":"left","title":"Intensity (arb. units)","titleX":-71,"titleY":227.5,"titleBaseline":"alphabetic","values":[0,25,50,75,100,125,150,175,200,225,250,275,300,325,350],"format":"d","labelExpr":"datum.value % 50 === 0 ? datum.label : ''","labelPadding":4,"labelOverlap":false,
      "tickSize":{"condition":{"test":"datum.value % 50 === 0","value":7},"value":4},
      "grid":true,"gridColor":{"condition":{"test":"datum.value % 50 === 0","value":"#a0a0a0"},"value":"#cccccc"},"gridDash":{"condition":{"test":"datum.value % 50 === 0","value":[]},"value":[3,3]}}},
    "detail":{"field":"c"},
    "color":{"datum":"Gaussian fit","type":"nominal","scale":{"domain":["Gaussian fit","Measurement"],"range":["red","black"]},
     "legend":{"title":null,"orient":"none","legendX":218,"legendY":-30,"direction":"vertical","fillColor":"white","strokeColor":"black","padding":4,"rowPadding":5,"symbolOffset":19,"labelOffset":22,"symbolSize":400,"labelFont":"Liberation Sans","labelFontSize":23,"labelColor":"black","labelLimit":400,
      "encode":{"symbols":{"update":{"shape":{"signal":"datum.value === 'Gaussian fit' ? 'M-2.4,0L2.4,0' : 'circle'"},"size":{"signal":"datum.value === 'Gaussian fit' ? 400 : 40"},"fill":{"signal":"datum.value === 'Gaussian fit' ? 'transparent' : 'black'"},"stroke":{"signal":"datum.value === 'Gaussian fit' ? 'red' : 'transparent'"},"strokeWidth":{"value":2},"opacity":{"value":1}}}}}}
   }
  },
  {
   "data":{"name":"measR"},
   "mark":{"type":"point","filled":true,"size":14,"opacity":1},
   "encoding":{
    "x":{"field":"x","type":"quantitative","axis":{"orient":"top","title":null,"labels":false,"grid":false,"values":[0,1,2,3,4,5,6,7,8,9,10,11,12,13,14,15],"tickSize":{"condition":{"test":"datum.value % 2 === 0","value":-7},"value":-4}}},
    "y":{"field":"y","type":"quantitative","axis":{"orient":"right","title":null,"labels":false,"grid":false,"values":[0,25,50,75,100,125,150,175,200,225,250,275,300,325,350],"tickSize":{"condition":{"test":"datum.value % 50 === 0","value":-7},"value":-4}}},
    "color":{"datum":"Measurement","type":"nominal","scale":{"domain":["Gaussian fit","Measurement"],"range":["red","black"]},
     "legend":{"title":null,"orient":"none","legendX":218,"legendY":-30,"direction":"vertical","fillColor":"white","strokeColor":"black","padding":4,"rowPadding":5,"symbolOffset":19,"labelOffset":22,"symbolSize":400,"labelFont":"Liberation Sans","labelFontSize":23,"labelColor":"black","labelLimit":400,
      "encode":{"symbols":{"update":{"shape":{"signal":"datum.value === 'Gaussian fit' ? 'M-2.4,0L2.4,0' : 'circle'"},"size":{"signal":"datum.value === 'Gaussian fit' ? 400 : 40"},"fill":{"signal":"datum.value === 'Gaussian fit' ? 'transparent' : 'black'"},"stroke":{"signal":"datum.value === 'Gaussian fit' ? 'red' : 'transparent'"},"strokeWidth":{"value":2},"opacity":{"value":1}}}}}}
   }
  },
  {
   "data":{"values":[{"x":0.48,"y":318,"t":"b)"},{"x":8.42,"y":288.9,"t":"2.0 ps"},{"x":0.75,"y":70.8,"t":"3.0 ps"},{"x":6.07,"y":40.2,"t":"3.8 ps"}]},
   "mark":{"type":"text","align":"left","baseline":"alphabetic","fontSize":23,"font":"Liberation Sans","fill":"white","stroke":"white","strokeWidth":18,"strokeJoin":"round"},
   "encoding":{"x":{"field":"x","type":"quantitative","axis":null},"y":{"field":"y","type":"quantitative","axis":null},"text":{"field":"t"}}
  },
  {
   "data":{"values":[{"x":0.48,"y":318,"t":"b)"},{"x":8.42,"y":288.9,"t":"2.0 ps"},{"x":0.75,"y":70.8,"t":"3.0 ps"},{"x":6.07,"y":40.2,"t":"3.8 ps"}]},
   "mark":{"type":"text","align":"left","baseline":"alphabetic","fontSize":23,"font":"Liberation Sans","color":"black"},
   "encoding":{"x":{"field":"x","type":"quantitative","axis":null},"y":{"field":"y","type":"quantitative","axis":null},"text":{"field":"t"}}
  },
  {
   "data":{"values":[{"x":3.79,"y":78.5,"x2":4.65,"y2":78.5},{"x":7.29,"y":57.6,"x2":8.09,"y2":79.9}]},
   "mark":{"type":"rule","color":"black","strokeWidth":1.2},
   "encoding":{"x":{"field":"x","type":"quantitative","axis":null},"y":{"field":"y","type":"quantitative","axis":null},"x2":{"field":"x2"},"y2":{"field":"y2"}}
  },
  {
   "data":{"values":[{"x":4.65,"y":78.5}]},
   "mark":{"type":"point","shape":"triangle-right","filled":true,"color":"black","size":55,"opacity":1},
   "encoding":{"x":{"field":"x","type":"quantitative","axis":null},"y":{"field":"y","type":"quantitative","axis":null}}
  },
  {
   "data":{"values":[{"x":8.09,"y":79.9}]},
   "mark":{"type":"point","shape":"triangle-up","angle":32.5,"filled":true,"color":"black","size":55,"opacity":1},
   "encoding":{"x":{"field":"x","type":"quantitative","axis":null},"y":{"field":"y","type":"quantitative","axis":null}}
  }
 ]
}
],
"spacing":181,
"bounds":"flush",
"resolve":{"scale":{"color":"independent"}}
}
